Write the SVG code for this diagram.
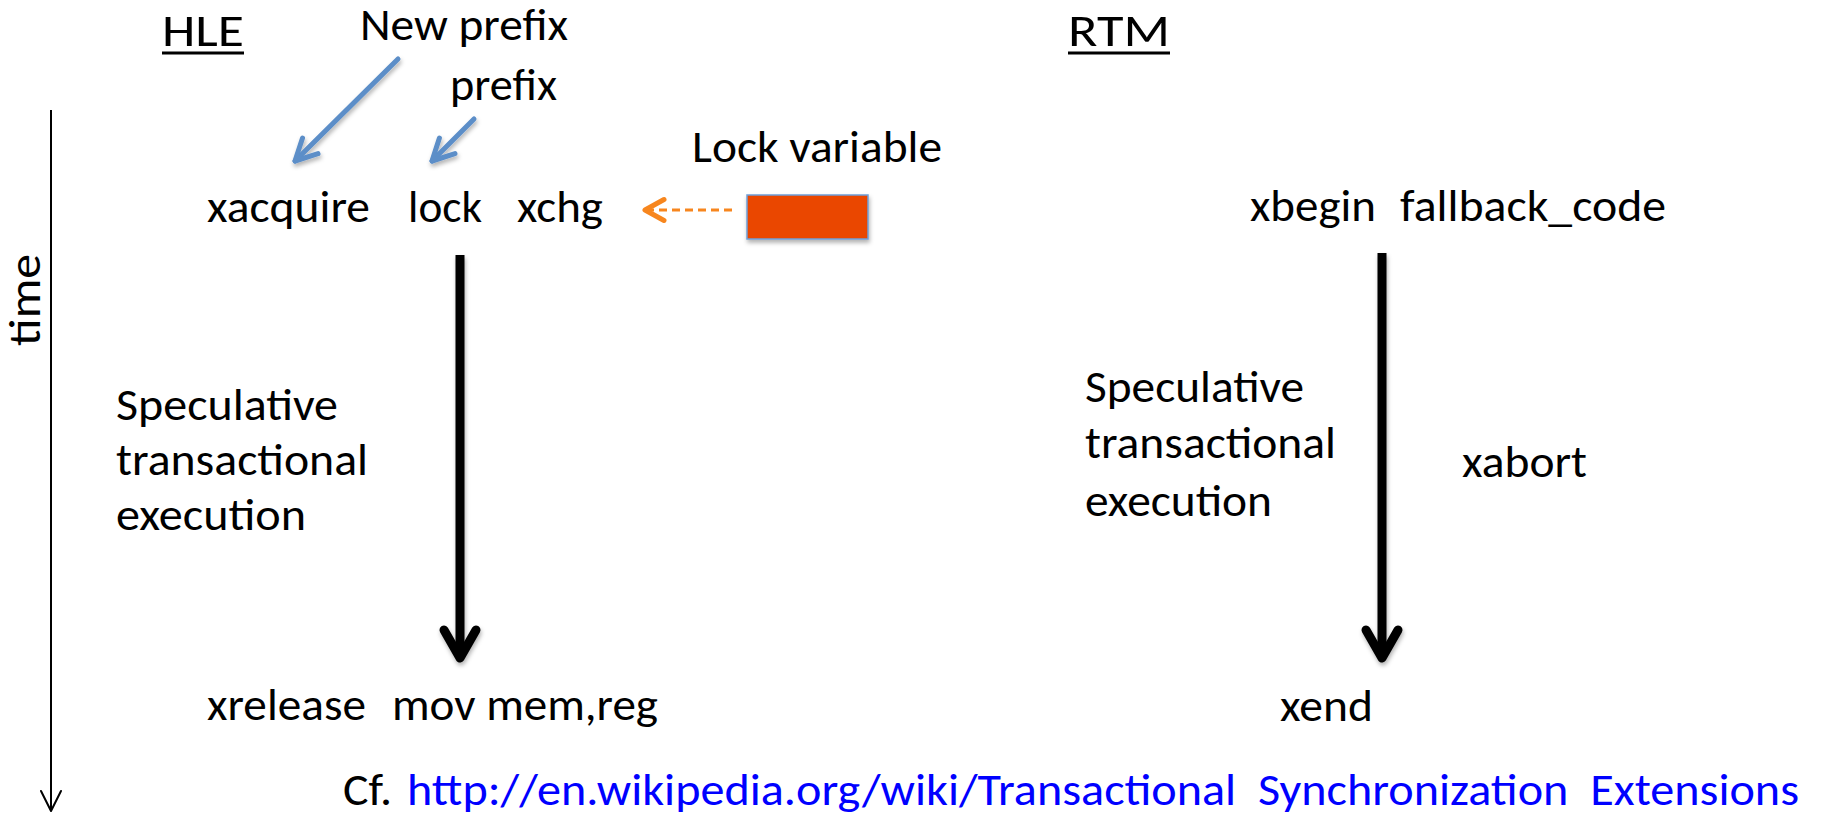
<svg xmlns="http://www.w3.org/2000/svg" width="1825" height="817" viewBox="0 0 1825 817">
  <style>
    text { font-family: Carlito, Lato, "Liberation Sans", sans-serif; font-size: 45px; fill: #000; }
    .head { font-size: 46px; }
    .link { fill: #0000ff; white-space: pre; }
    .u { stroke: #000; stroke-width: 3; }
    .blue { stroke: #5b8ec8; stroke-width: 5; fill: none; stroke-linecap: round; }
    .black { stroke: #000; stroke-width: 9; fill: none; }
    .axis { stroke: #000; stroke-width: 2; fill: none; }
    .orange { stroke: #f7861e; stroke-width: 3; fill: none; stroke-dasharray: 8 5; }
  </style>
  <defs>
    <filter id="shadow" x="-20%" y="-20%" width="140%" height="140%">
      <feDropShadow dx="1" dy="3" stdDeviation="2" flood-color="#000" flood-opacity="0.3"/>
    </filter>
    <marker id="headBlue" markerUnits="userSpaceOnUse" viewBox="-30 -20 40 40" refX="0" refY="0" markerWidth="40" markerHeight="40" orient="auto" overflow="visible">
      <path d="M-21.5,-11 L0,0 L-21.5,11" fill="none" stroke="#5b8ec8" stroke-width="5" stroke-linecap="round" stroke-linejoin="round"/>
    </marker>
    <marker id="headBlack" markerUnits="userSpaceOnUse" viewBox="-40 -25 50 50" refX="0" refY="0" markerWidth="50" markerHeight="50" orient="auto" overflow="visible">
      <path d="M-28,-16 L0,0 L-28,16" fill="none" stroke="#000" stroke-width="9" stroke-linecap="round" stroke-linejoin="round"/>
    </marker>
    <marker id="headAxis" markerUnits="userSpaceOnUse" viewBox="-25 -15 30 30" refX="0" refY="0" markerWidth="30" markerHeight="30" orient="auto" overflow="visible">
      <path d="M-20,-10 L0,0 L-20,10" fill="none" stroke="#000" stroke-width="2" stroke-linecap="round" stroke-linejoin="round"/>
    </marker>
    <marker id="headOrange" markerUnits="userSpaceOnUse" viewBox="-25 -15 30 30" refX="0" refY="0" markerWidth="30" markerHeight="30" orient="auto" overflow="visible">
      <path d="M-19,-10.5 L0,0 L-19,10.5" fill="none" stroke="#f7861e" stroke-width="5" stroke-linecap="round" stroke-linejoin="round"/>
    </marker>
  </defs>

  <rect width="1825" height="817" fill="#fff"/>

  <!-- connectors -->
  <g id="connectors">
    <line id="time-axis" class="axis" x1="51" y1="110" x2="51" y2="811" marker-end="url(#headAxis)"/>
    <g filter="url(#shadow)">
      <line id="new-prefix-arrow" class="blue" x1="398" y1="59" x2="295" y2="161" marker-end="url(#headBlue)"/>
      <line id="prefix-arrow" class="blue" x1="474" y1="119" x2="432" y2="161" marker-end="url(#headBlue)"/>
      <line id="hle-flow" class="black" x1="460" y1="255" x2="460" y2="658" marker-end="url(#headBlack)"/>
      <line id="rtm-flow" class="black" x1="1382" y1="253" x2="1382" y2="658" marker-end="url(#headBlack)"/>
    </g>
    <line id="lock-var-arrow" class="orange" x1="732" y1="210" x2="646" y2="210"/>
    <line class="orange" x1="646" y1="210" x2="645" y2="210" style="stroke-dasharray:none" marker-end="url(#headOrange)"/>
  </g>

  <!-- time axis label -->
  <g id="time-label">
    <text x="0" y="0" transform="translate(40,300) rotate(-90)" text-anchor="middle" textLength="92" lengthAdjust="spacingAndGlyphs">time</text>
  </g>

  <!-- HLE column -->
  <g id="hle-title">
    <text class="head" x="162" y="46" textLength="82" lengthAdjust="spacingAndGlyphs">HLE</text>
    <line class="u" x1="162" y1="53" x2="244" y2="53"/>
  </g>
  <g id="new-prefix">
    <text x="360" y="40" textLength="208" lengthAdjust="spacingAndGlyphs">New prefix</text>
  </g>
  <g id="prefix">
    <text x="450" y="100" textLength="107" lengthAdjust="spacingAndGlyphs">prefix</text>
  </g>
  <g id="hle-acquire">
    <text x="207" y="222" textLength="163" lengthAdjust="spacingAndGlyphs">xacquire</text>
    <text x="408" y="222" textLength="74" lengthAdjust="spacingAndGlyphs">lock</text>
    <text x="517" y="222" textLength="86" lengthAdjust="spacingAndGlyphs">xchg</text>
  </g>
  <g id="lock-variable">
    <text x="692" y="162" textLength="250" lengthAdjust="spacingAndGlyphs">Lock variable</text>
    <rect x="747" y="195" width="121" height="44" fill="#ea4700" stroke="#6f9fd8" stroke-width="1.5" filter="url(#shadow)"/>
  </g>
  <g id="hle-speculative">
    <text x="116" y="420" textLength="222" lengthAdjust="spacingAndGlyphs">Speculative</text>
    <text x="116" y="475" textLength="252" lengthAdjust="spacingAndGlyphs">transactional</text>
    <text x="116" y="530" textLength="190" lengthAdjust="spacingAndGlyphs">execution</text>
  </g>
  <g id="hle-release">
    <text x="207" y="720" textLength="159" lengthAdjust="spacingAndGlyphs">xrelease</text>
    <text x="392" y="720" textLength="266" lengthAdjust="spacingAndGlyphs">mov mem,reg</text>
  </g>

  <!-- RTM column -->
  <g id="rtm-title">
    <text class="head" x="1068" y="46" textLength="102" lengthAdjust="spacingAndGlyphs">RTM</text>
    <line class="u" x1="1068" y1="53" x2="1170" y2="53"/>
  </g>
  <g id="rtm-begin">
    <text x="1250" y="221" textLength="126" lengthAdjust="spacingAndGlyphs">xbegin</text>
    <text x="1400" y="221" textLength="266" lengthAdjust="spacingAndGlyphs">fallback_code</text>
  </g>
  <g id="rtm-speculative">
    <text x="1085" y="402" textLength="219" lengthAdjust="spacingAndGlyphs">Speculative</text>
    <text x="1085" y="458" textLength="251" lengthAdjust="spacingAndGlyphs">transactional</text>
    <text x="1085" y="516" textLength="187" lengthAdjust="spacingAndGlyphs">execution</text>
  </g>
  <g id="rtm-abort">
    <text x="1462" y="477" textLength="125" lengthAdjust="spacingAndGlyphs">xabort</text>
  </g>
  <g id="rtm-end">
    <text x="1280" y="721" textLength="93" lengthAdjust="spacingAndGlyphs">xend</text>
  </g>

  <!-- reference -->
  <g id="reference">
    <text x="343" y="805" textLength="49" lengthAdjust="spacingAndGlyphs">Cf.</text>
    <text class="link" x="407" y="805" textLength="1392" lengthAdjust="spacingAndGlyphs">http://en.wikipedia.org/wiki/Transactional  Synchronization  Extensions</text>
  </g>
</svg>
